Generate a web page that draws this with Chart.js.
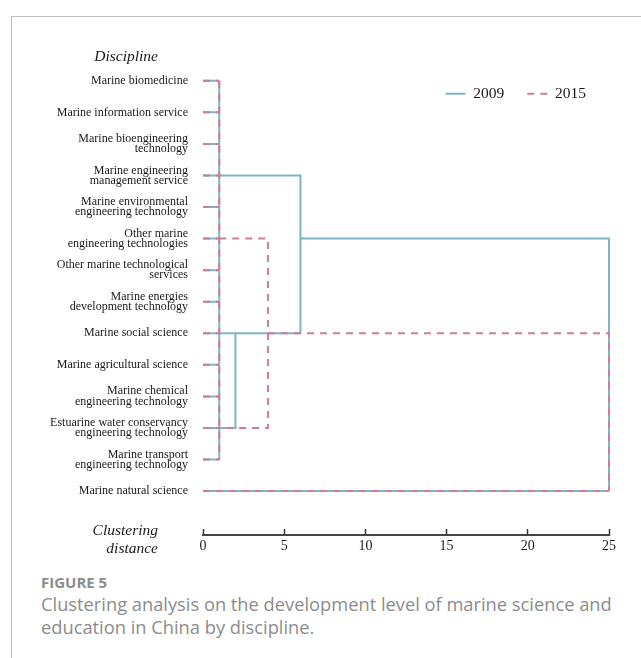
<!DOCTYPE html>
<html>
<head>
<meta charset="utf-8">
<title>Clustering analysis by discipline</title>
<script src="https://cdn.jsdelivr.net/npm/chart.js@4.4.1/dist/chart.umd.min.js"></script>
<style>
  body { margin: 0; background: #fff; }
  .frame {
    position: absolute; left: 11px; top: 16px; width: 700px; height: 700px;
    border-top: 1px solid #bdbdbd; border-left: 1px solid #bdbdbd;
  }
  #chart { position: absolute; left: 0; top: 0; }
  .fig-label {
    position: absolute; left: 41px; top: 572px;
    font: 700 15px/20px "Open Sans", sans-serif; color: #8c8c8c;
  }
  .fig-caption {
    position: absolute; left: 41px; top: 593px;
    font: 400 18.3px/22.5px "Open Sans", sans-serif; color: #8c8c8c;
    white-space: nowrap;
  }
</style>
</head>
<body>
<div class="frame"></div>
<canvas id="chart" width="641" height="565"></canvas>
<div class="fig-label">FIGURE 5</div>
<div class="fig-caption">Clustering analysis on the development level of marine science and<br>education in China by discipline.</div>

<script>
const disciplines = [
  ['Marine biomedicine'],
  ['Marine information service'],
  ['Marine bioengineering', 'technology'],
  ['Marine engineering', 'management service'],
  ['Marine environmental', 'engineering technology'],
  ['Other marine', 'engineering technologies'],
  ['Other marine technological', 'services'],
  ['Marine energies', 'development technology'],
  ['Marine social science'],
  ['Marine agricultural science'],
  ['Marine chemical', 'engineering technology'],
  ['Estuarine water conservancy', 'engineering technology'],
  ['Marine transport', 'engineering technology'],
  ['Marine natural science']
];

// distance where each discipline's own branch joins (same in both years)
const leafReach = [1, 1, 1, 1, 1, 1, 1, 1, 1, 1, 1, 1, 1, 25];

// merge links as [distance, discipline row] paths
const links2009 = [
  [[1, 0], [1, 12]],
  [[1, 3], [6, 3], [6, 8], [1, 8]],
  [[1, 8], [2, 8], [2, 11], [1, 11]],
  [[6, 5], [25, 5], [25, 13]]
];
const links2015 = [
  [[1, 0], [1, 12]],
  [[1, 5], [4, 5], [4, 11], [1, 11]],
  [[4, 8], [25, 8], [25, 13]]
];

const years = ['2009', '2015'];
const distanceTicks = [0, 5, 10, 15, 20, 25];

const yTitle = 'Discipline';
const xTitle = ['Clustering', 'distance'];

const serif = '"Liberation Serif", "Times New Roman", serif';

function toPoints(links) {
  const pts = [];
  disciplines.forEach((d, i) => {
    pts.push({ x: 0, y: i }, { x: leafReach[i], y: i }, { x: null, y: null });
  });
  links.forEach(path => {
    path.forEach(p => pts.push({ x: p[0], y: p[1] }));
    pts.push({ x: null, y: null });
  });
  return pts;
}

// italic axis captions left of the plot, legend moved down into the plot
const sideTitles = {
  id: 'sideTitles',
  afterLayout(chart) {
    const lg = chart.legend;
    const shift = chart.chartArea.top - 2 - lg.top;
    lg.top += shift;
    lg.bottom += shift;
  },
  afterDraw(chart) {
    const { ctx, chartArea, scales } = chart;
    const x = chartArea.left - 45;
    ctx.save();
    ctx.font = 'italic 15.5px ' + serif;
    ctx.fillStyle = '#1a1a1a';
    ctx.textAlign = 'right';
    ctx.textBaseline = 'middle';
    ctx.fillText(yTitle, x, scales.y.getPixelForValue(0) - 24);
    ctx.fillText(xTitle[0], x, scales.x.top - 4);
    ctx.fillText(xTitle[1], x, scales.x.top + 14);
    ctx.restore();
  }
};

new Chart(document.getElementById('chart'), {
  type: 'line',
  data: {
    datasets: [
      {
        label: years[0],
        data: toPoints(links2009),
        borderColor: '#7fb4c6',
        backgroundColor: '#7fb4c6',
        borderWidth: 2,
        order: 1
      },
      {
        label: years[1],
        data: toPoints(links2015),
        borderColor: '#d07b9b',
        backgroundColor: '#d07b9b',
        borderWidth: 2,
        borderDash: [7, 6],
        order: 0
      }
    ]
  },
  options: {
    responsive: false,
    animation: false,
    events: [],
    spanGaps: false,
    // legend box is 48.5px tall, so top padding + legend = 65
    layout: { padding: { top: 16.5, right: 32, bottom: 0, left: 0 } },
    elements: {
      point: { radius: 0 },
      line: { tension: 0, fill: false }
    },
    datasets: { line: { clip: false } },
    scales: {
      x: {
        type: 'linear',
        min: 0,
        max: 25,
        afterBuildTicks: axis => { axis.ticks = distanceTicks.map(v => ({ value: v })); },
        afterFit: axis => { axis.height = 30; },
        grid: { display: true, drawOnChartArea: false, drawTicks: true, tickLength: -6, tickColor: '#333', tickWidth: 1.5 },
        border: { display: true, color: '#444', width: 2 },
        ticks: { color: '#1a1a1a', padding: 9, font: { family: serif, size: 14 } }
      },
      y: {
        type: 'linear',
        reverse: true,
        min: -0.5,
        max: 14.39,
        afterBuildTicks: axis => { axis.ticks = disciplines.map((d, i) => ({ value: i })); },
        afterFit: axis => { axis.width = 203; },
        grid: { display: false, drawTicks: false },
        border: { display: false },
        ticks: {
          autoSkip: false,
          padding: 15,
          color: '#1a1a1a',
          font: { family: serif, size: 12, lineHeight: 0.85 },
          callback: v => disciplines[v]
        }
      }
    },
    plugins: {
      tooltip: { enabled: false },
      title: { display: false },
      legend: {
        position: 'top',
        align: 'end',
        labels: {
          usePointStyle: true,
          pointStyle: 'line',
          pointStyleWidth: 20,
          padding: 23,
          color: '#1a1a1a',
          font: { family: serif, size: 15.5 },
          generateLabels: chart => Chart.defaults.plugins.legend.labels.generateLabels(chart).map(item => {
            const ds = chart.data.datasets[item.datasetIndex];
            item.lineDash = ds.borderDash || [];
            item.lineWidth = ds.borderWidth;
            item.strokeStyle = ds.borderColor;
            return item;
          }),
          sort: (a, b) => a.datasetIndex - b.datasetIndex
        }
      }
    }
  },
  plugins: [sideTitles]
});
</script>
</body>
</html>
